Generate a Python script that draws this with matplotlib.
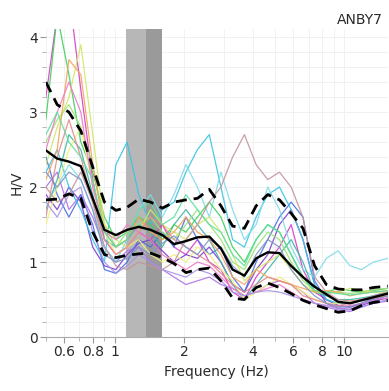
import matplotlib
matplotlib.use("Agg")
import matplotlib.pyplot as plt
from matplotlib.ticker import FixedLocator, NullFormatter, MultipleLocator

# Frequency samples (Hz)
freq = [0.50, 0.56, 0.63, 0.71, 0.80, 0.90, 1.01, 1.13, 1.27, 1.43, 1.61, 1.81,
        2.04, 2.29, 2.58, 2.90, 3.26, 3.67, 4.13, 4.64, 5.22, 5.87, 6.61, 7.43,
        8.36, 9.41, 10.6, 11.9, 13.4, 15.5]

# Individual H/V curves
hv_curves = {
    "#d63fc4": [3.2, 4.3, 4.6, 3.3, 2.1, 1.3, 1.1, 1.2, 1.4, 1.3, 1.5, 1.2, 1.1, 1.3, 1.0, 0.9, 0.6, 0.5, 0.8, 1.0, 1.2, 1.5, 0.9, 0.6, 0.5, 0.42, 0.40, 0.44, 0.50, 0.55],
    "#7b3fd0": [1.9, 1.7, 2.0, 1.8, 1.2, 0.95, 0.9, 1.1, 1.25, 1.3, 1.15, 1.0, 1.1, 1.05, 1.2, 1.0, 0.7, 0.6, 0.9, 1.1, 1.5, 1.7, 1.3, 0.7, 0.45, 0.38, 0.37, 0.42, 0.48, 0.52],
    "#b073e8": [2.0, 2.2, 1.7, 1.9, 1.6, 1.2, 1.0, 1.15, 1.2, 1.0, 0.9, 0.8, 0.7, 0.75, 0.8, 0.7, 0.65, 0.55, 0.6, 0.7, 0.75, 0.7, 0.6, 0.45, 0.40, 0.36, 0.34, 0.40, 0.45, 0.48],
    "#4a6ee0": [2.4, 1.9, 1.6, 1.9, 1.5, 0.9, 0.85, 1.0, 1.3, 1.2, 1.4, 1.2, 1.6, 1.3, 1.1, 1.2, 0.8, 0.6, 1.0, 1.3, 1.6, 1.8, 1.6, 0.75, 0.5, 0.42, 0.40, 0.45, 0.52, 0.58],
    "#38c3e3": [2.2, 2.5, 2.0, 1.7, 1.3, 1.0, 2.3, 2.6, 1.9, 1.5, 1.7, 1.8, 2.2, 2.5, 2.7, 2.0, 1.3, 1.2, 1.6, 1.9, 2.0, 1.7, 1.3, 0.7, 0.5, 0.45, 0.45, 0.5, 0.55, 0.6],
    "#80dbe8": [1.8, 2.0, 2.3, 2.1, 1.7, 1.2, 1.0, 1.3, 1.7, 1.9, 1.6, 1.9, 2.3, 2.0, 1.6, 2.2, 1.7, 1.3, 1.5, 2.0, 1.7, 1.2, 0.9, 0.8, 1.05, 1.15, 0.95, 0.9, 1.0, 1.05],
    "#3fb4a8": [1.7, 2.1, 2.7, 2.5, 1.9, 1.3, 1.2, 1.3, 1.5, 1.4, 1.2, 1.5, 1.7, 1.5, 1.3, 1.0, 0.7, 0.5, 0.7, 0.9, 1.1, 1.3, 1.0, 0.6, 0.55, 0.5, 0.5, 0.52, 0.55, 0.6],
    "#3ed05c": [2.9, 4.3, 3.5, 2.6, 2.2, 1.6, 1.3, 1.4, 1.6, 1.5, 1.3, 1.5, 1.4, 1.6, 1.8, 1.6, 1.2, 1.0, 1.3, 1.5, 1.4, 1.1, 0.8, 0.6, 0.6, 0.65, 0.62, 0.6, 0.62, 0.65],
    "#9ae276": [2.6, 2.9, 3.1, 2.8, 2.3, 1.5, 1.2, 1.4, 1.5, 1.6, 1.4, 1.3, 1.5, 1.7, 1.5, 1.3, 1.0, 0.9, 1.2, 1.4, 1.3, 1.0, 0.75, 0.62, 0.6, 0.6, 0.58, 0.6, 0.63, 0.65],
    "#d0e868": [2.3, 2.8, 3.2, 3.9, 2.7, 1.5, 1.3, 1.2, 1.4, 1.7, 1.5, 1.4, 1.3, 1.5, 1.6, 1.4, 1.1, 0.75, 0.9, 1.0, 1.1, 0.9, 0.7, 0.6, 0.58, 0.6, 0.65, 0.62, 0.6, 0.6],
    "#f2ee7a": [1.5, 2.0, 2.5, 2.8, 2.0, 1.4, 1.1, 1.2, 1.3, 1.1, 1.0, 1.1, 1.0, 1.2, 1.1, 0.9, 0.75, 0.5, 0.6, 0.7, 0.8, 0.7, 0.6, 0.5, 0.45, 0.45, 0.48, 0.5, 0.52, 0.55],
    "#f1a45a": [2.1, 2.5, 3.7, 3.5, 2.3, 1.4, 1.2, 1.3, 1.6, 1.4, 1.3, 1.4, 1.6, 1.4, 1.3, 1.1, 0.8, 0.7, 0.9, 0.8, 0.75, 0.7, 0.65, 0.6, 0.62, 0.6, 0.55, 0.58, 0.6, 0.62],
    "#e58a8a": [1.6, 2.4, 2.9, 2.4, 1.8, 1.3, 1.1, 1.2, 1.4, 1.6, 1.5, 1.3, 1.2, 1.1, 1.0, 0.85, 0.7, 0.6, 0.7, 0.8, 0.75, 0.7, 0.55, 0.5, 0.45, 0.42, 0.45, 0.5, 0.52, 0.55],
    "#c4949c": [2.0, 1.8, 1.9, 2.2, 1.8, 1.2, 0.95, 0.9, 1.0, 0.95, 0.9, 1.0, 1.3, 1.5, 1.8, 2.0, 2.4, 2.7, 2.3, 2.1, 2.2, 2.0, 1.6, 0.8, 0.6, 0.5, 0.48, 0.5, 0.55, 0.6],
    "#f07ac8": [2.5, 3.0, 3.4, 3.0, 2.0, 1.4, 1.3, 1.5, 1.4, 1.3, 1.1, 1.0, 0.9, 1.0, 0.95, 0.8, 0.65, 0.55, 0.6, 0.65, 0.7, 0.6, 0.5, 0.45, 0.42, 0.4, 0.42, 0.45, 0.5, 0.52],
    "#a695e6": [1.8, 1.6, 1.9, 2.0, 1.4, 1.0, 0.85, 0.95, 1.1, 1.0, 0.9, 0.85, 0.8, 0.9, 0.85, 0.75, 0.6, 0.55, 0.6, 0.62, 0.6, 0.55, 0.5, 0.45, 0.42, 0.38, 0.36, 0.4, 0.45, 0.5],
    "#7f94c6": [2.2, 2.0, 2.2, 2.1, 1.7, 1.1, 1.0, 1.05, 1.2, 1.1, 1.25, 1.35, 1.2, 1.1, 1.3, 1.2, 0.95, 0.8, 1.1, 1.3, 1.2, 0.9, 0.7, 0.55, 0.45, 0.4, 0.4, 0.45, 0.5, 0.55],
    "#5fdfa0": [2.7, 3.0, 2.6, 2.4, 2.1, 1.4, 1.2, 1.3, 1.7, 1.8, 1.5, 1.6, 1.9, 1.7, 1.5, 1.4, 1.1, 0.95, 1.3, 1.5, 1.4, 1.1, 0.8, 0.62, 0.6, 0.58, 0.56, 0.58, 0.6, 0.62],
}

# Mean curve and +/- one standard deviation
hv_mean = [2.49, 2.38, 2.34, 2.28, 1.85, 1.43, 1.36, 1.43, 1.47, 1.43, 1.36, 1.24,
           1.28, 1.33, 1.34, 1.18, 0.90, 0.82, 1.05, 1.13, 1.12, 0.95, 0.80, 0.67,
           0.57, 0.47, 0.45, 0.49, 0.53, 0.58]
hv_upper = [3.40, 3.10, 3.00, 2.75, 2.27, 1.80, 1.69, 1.73, 1.84, 1.80, 1.72, 1.80,
            1.83, 1.85, 1.97, 1.75, 1.48, 1.45, 1.75, 1.90, 1.83, 1.65, 1.45, 0.95,
            0.70, 0.64, 0.63, 0.63, 0.66, 0.68]
hv_lower = [1.83, 1.84, 1.91, 1.85, 1.40, 1.10, 1.06, 1.09, 1.11, 1.12, 1.06, 0.98,
            0.86, 0.90, 0.92, 0.75, 0.52, 0.50, 0.66, 0.72, 0.66, 0.58, 0.49, 0.43,
            0.38, 0.33, 0.35, 0.42, 0.46, 0.49]

# Peak frequency band: f0 - std, f0, f0 + std
f0_low, f0, f0_high = 1.12, 1.36, 1.60

station = "ANBY7"
x_tick_values = [0.6, 0.8, 1, 2, 4, 6, 8, 10]
x_tick_labels = ["0.6", "0.8", "1", "2", "4", "6", "8", "10"]

plt.rcParams["font.family"] = "DejaVu Sans"
fig = plt.figure(figsize=(3.89, 3.91), dpi=100)
ax = fig.add_axes([0.118, 0.138, 0.879, 0.788])

ax.axvspan(f0_low, f0, color="#b7b7b7", lw=0, zorder=1)
ax.axvspan(f0, f0_high, color="#9a9a9a", lw=0, zorder=1)

for color, vals in hv_curves.items():
    ax.plot(freq, vals, color=color, lw=0.9, alpha=0.9, zorder=2)

ax.plot(freq, hv_mean, color="black", lw=1.7, zorder=4)
ax.plot(freq, hv_upper, color="black", lw=2.0, dashes=(4, 2.5), zorder=4)
ax.plot(freq, hv_lower, color="black", lw=2.0, dashes=(4, 2.5), zorder=4)

ax.set_xscale("log")
ax.set_xlim(0.5, 15.5)
ax.set_ylim(0, 4.11)

minor_x = [m * d for d in (0.1, 1, 10) for m in range(1, 10)]
ax.xaxis.set_major_locator(FixedLocator(x_tick_values))
ax.xaxis.set_minor_locator(FixedLocator(minor_x))
ax.set_xticklabels(x_tick_labels)
ax.xaxis.set_minor_formatter(NullFormatter())
ax.yaxis.set_major_locator(MultipleLocator(1))
ax.yaxis.set_minor_locator(MultipleLocator(0.2))

ax.grid(True, which="both", color="#f1f1f1", lw=0.7, zorder=0)
ax.set_axisbelow(True)

for side in ("top", "right", "left"):
    ax.spines[side].set_visible(False)
ax.spines["bottom"].set_color("#aaaaaa")
ax.spines["bottom"].set_linewidth(0.8)

ax.tick_params(axis="both", which="major", length=4, width=0.8, color="#999999",
               labelsize=10, labelcolor="#2a2a2a", pad=2)
ax.tick_params(axis="both", which="minor", length=3, width=0.6, color="#aaaaaa")

ax.set_xlabel("Frequency (Hz)", fontsize=10, color="#2a2a2a", labelpad=4)
ax.set_ylabel("H/V", fontsize=10, color="#2a2a2a", labelpad=4)
fig.text(0.985, 0.948, station, ha="right", va="center", fontsize=10, color="#2a2a2a")

fig.savefig("out.png", dpi=100)
